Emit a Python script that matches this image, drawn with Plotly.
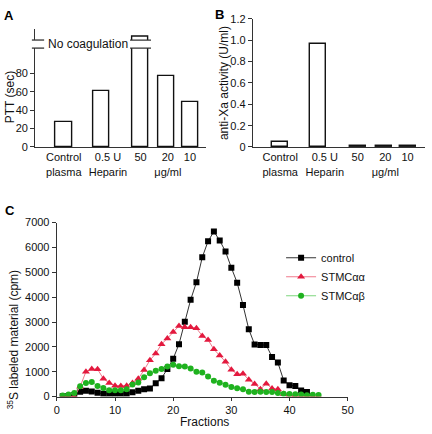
import plotly.graph_objects as go

# ---------------- data ----------------
bar_labels = ["Control<br>plasma", "0.5 U<br>Heparin", "50", "20<br>μg/ml", "10"]
ptt_sec = [27, 61, 200, 77, 49]          # 200 = "No coagulation" (off scale)
anti_xa = [0.045, 0.965, 0.01, 0.01, 0.01]

fractions_control = list(range(1, 44))
control = [10, 20, 60, 190, 230, 200, 150, 110, 110, 110, 110, 110, 170, 235, 300,
           330, 540, 740, 1110, 1525, 2110, 3010, 3890, 4600, 5600, 6250, 6640,
           6276, 5833, 5182, 4583, 3685, 2708, 2096, 2070, 2070, 1590, 1367, 651,
           456, 430, 247, 182]
fractions_45 = list(range(1, 46))
stmc_aa = [0, 0, 0, 400, 1000, 1110, 1100, 720, 550, 440, 430, 440, 550, 720, 1070,
           1460, 1730, 2110, 2340, 2600, 2840, 2790, 2790, 2750, 2440, 2280, 1900,
           1650, 1400, 1080, 900, 920, 680, 510, 300, 520, 330, 300, 100, 60, 30,
           20, 10, 10, 10]
stmc_ab = [40, 80, 145, 420, 550, 590, 430, 350, 260, 260, 260, 300, 490, 570, 780,
           940, 1040, 1110, 1210, 1280, 1220, 1210, 1130, 1000, 970, 810, 640, 560,
           480, 390, 340, 300, 190, 185, 195, 185, 180, 145, 115, 105, 90, 80, 55,
           75, 65]

# ---------------- layout helpers ----------------
W, H = 432, 434
FONT = "Liberation Sans, Arial, sans-serif"
bar_pos = [0, 1, 2.05, 2.75, 3.37]
label_pos = [0, 1.18, 2.05, 2.78, 3.37]
bar_w = 0.43


def px(x):
    return x / W


def py(y):
    return 1 - y / H


fig = go.Figure()

bar_style = dict(marker=dict(color="white", line=dict(color="#111", width=1.4)),
                 width=bar_w, showlegend=False, hoverinfo="skip")

# Panel A (lower + upper part of the broken axis)
fig.add_trace(go.Bar(x=bar_pos, y=ptt_sec, xaxis="x", yaxis="y", **bar_style))
fig.add_trace(go.Bar(x=bar_pos, y=ptt_sec, xaxis="x", yaxis="y2", **bar_style))
# Panel B
fig.add_trace(go.Bar(x=bar_pos, y=anti_xa, xaxis="x2", yaxis="y3", **bar_style))

# Panel C
fig.add_trace(go.Scatter(x=fractions_control, y=control, name="control",
                         mode="lines+markers", xaxis="x3", yaxis="y4",
                         line=dict(color="#333", width=1),
                         marker=dict(symbol="square", size=6, color="black")))
fig.add_trace(go.Scatter(x=fractions_45, y=stmc_aa, name="STMCαα",
                         mode="lines+markers", xaxis="x3", yaxis="y4",
                         line=dict(color="#f07a8c", width=1),
                         marker=dict(symbol="triangle-up", size=7, color="#e3193e")))
fig.add_trace(go.Scatter(x=fractions_45, y=stmc_ab, name="STMCαβ",
                         mode="lines+markers", xaxis="x3", yaxis="y4",
                         line=dict(color="#7ed67e", width=1),
                         marker=dict(symbol="circle", size=6, color="#1fb21f")))

axis_common = dict(showline=True, linecolor="#333", linewidth=1.3, showgrid=False,
                   zeroline=False, tickfont=dict(family=FONT, size=11, color="#111"),
                   ticks="outside", ticklen=4, tickcolor="#333", tickwidth=1.2,
                   tickangle=0)

fig.update_layout(
    width=W, height=H, margin=dict(l=0, r=0, t=0, b=0),
    paper_bgcolor="white", plot_bgcolor="white",
    font=dict(family=FONT, size=11, color="#111"),
    bargap=0,
    xaxis=dict(axis_common, domain=[px(33), px(207)], range=[-0.76, 3.79],
               anchor="y", tickvals=label_pos, ticktext=bar_labels, ticks="",
               ticklen=0),
    yaxis=dict(axis_common, domain=[py(145), py(43.3)], range=[0, 107.5],
               anchor="x", tickvals=[0, 20, 40, 60, 80]),
    yaxis2=dict(axis_common, domain=[py(35), py(23.3)], range=[196, 210],
                anchor="x", showticklabels=False, ticks=""),
    xaxis2=dict(axis_common, domain=[px(255.3), px(431)], range=[-0.72, 3.83],
                anchor="y3", tickvals=label_pos, ticktext=bar_labels, ticks="",
                ticklen=0),
    yaxis3=dict(axis_common, domain=[py(145), py(13.3)], range=[0, 1.2],
                anchor="x2", tickvals=[0, 0.2, 0.4, 0.6, 0.8, 1.0, 1.2],
                ticktext=["0", "0.2", "0.4", "0.6", "0.8", "1.0", "1.2"]),
    xaxis3=dict(axis_common, domain=[px(55), px(352)], range=[0, 50],
                anchor="y4", tickvals=[0, 10, 20, 30, 40, 50], ticklen=3),
    yaxis4=dict(axis_common, domain=[py(401.7), py(222.7)], range=[0, 7000],
                anchor="x3", tickvals=list(range(0, 7001, 1000))),
    legend=dict(x=px(284), y=py(244), xanchor="left", yanchor="top",
                font=dict(family=FONT, size=11, color="#111"),
                bgcolor="rgba(0,0,0,0)", itemwidth=30),
)

# axis-break marks
brk = dict(type="line", xref="paper", yref="paper",
           line=dict(color="#333", width=1.3))
for yb in (35, 43.3):
    fig.add_shape(**brk, x0=px(29.5), x1=px(42), y0=py(yb), y1=py(yb))
    fig.add_shape(type="line", xref="x", yref="paper",
                  x0=bar_pos[2] - 0.28, x1=bar_pos[2] + 0.28, y0=py(yb), y1=py(yb),
                  line=dict(color="#333", width=1.3))

ann = dict(xref="paper", yref="paper", showarrow=False,
           font=dict(family=FONT, size=12, color="#111"))
fig.add_annotation(**ann, x=px(86.5), y=py(39.5), text="No coagulation",
                   xanchor="center", yanchor="middle")
fig.add_annotation(**ann, x=px(8), y=py(94), text="PTT (sec)", textangle=-90,
                   xanchor="center", yanchor="middle")
fig.add_annotation(**ann, x=px(226), y=py(79), text="anti-Xa activity (U/ml)",
                   textangle=-90, xanchor="center", yanchor="middle")
fig.add_annotation(**ann, x=px(10), y=py(343),
                   text="<sup>35</sup>S labeled material (cpm)", textangle=-90,
                   xanchor="center", yanchor="middle")
fig.add_annotation(**ann, x=px(205.5), y=py(428), text="Fractions",
                   xanchor="center", yanchor="middle")

bold = dict(xref="paper", yref="paper", showarrow=False,
            font=dict(family=FONT, size=13, color="#000"))
fig.add_annotation(**bold, x=px(6.5), y=py(10), text="<b>A</b>",
                   xanchor="center", yanchor="middle")
fig.add_annotation(**bold, x=px(221), y=py(9), text="<b>B</b>",
                   xanchor="center", yanchor="middle")
fig.add_annotation(**bold, x=px(7), y=py(210), text="<b>C</b>",
                   xanchor="center", yanchor="middle")

fig.write_html("out.html", config={"displayModeBar": False},
               post_script="document.body.style.margin='0';"
                           "document.body.style.overflow='hidden';")
